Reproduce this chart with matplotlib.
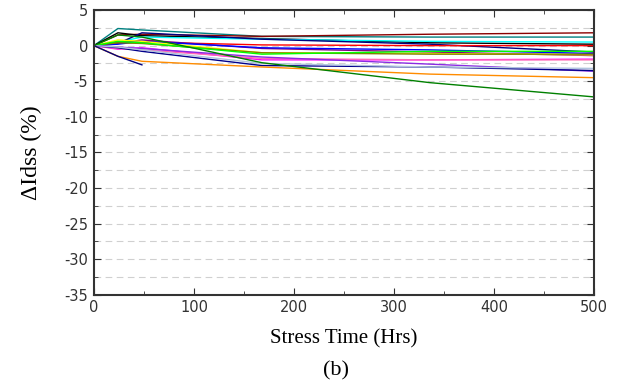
import numpy as np
import matplotlib.pyplot as plt
from matplotlib.ticker import MultipleLocator

plt.rcParams['axes.unicode_minus'] = False

# stress times (hrs) and delta Idss (%) per device
hrs = [0, 24, 48, 168, 336, 500]

teal = [0, 2.4, 2.2, 1.3, 1.2, 1.2]
darkred = [0, 1.5, 1.6, 1.3, 1.6, 1.8]
black = [0, 1.8, 1.4, 1.0, 0.4, 0.2]
cyan = [0, 0.5, 1.2, 0.9, 0.6, 0.5]
navy1 = [0, 0.3, 1.8, 0.9, 0.2, -0.9]
red = [0, 0.5, 0.5, 0.1, 0.0, 0.0]
purple = [0, 0.3, 0.8, -0.4, -0.9, -1.4]
blue = [0, 0.2, 0.6, -0.3, -0.6, -1.1]
yellow = [0, 0.8, 0.6, -1.0, -1.1, -1.3]
olive = [0, 0.4, 0.3, -1.0, -1.2, -1.2]
lime = [0, 0.6, 0.4, -1.2, -0.8, -0.8]
magenta = [0, -0.5, -0.3, -2.0, -2.0, -1.9]
pink = [0, -0.4, -0.6, -1.8, -2.0, -2.0]
violet = [0, -0.2, -0.4, -1.6, -2.6, -3.6]
navy2 = [0, -0.3, -0.8, -2.8, -3.0, -3.5]
steel = [0, -0.2, -0.6, -2.5, -3.0, -3.2]
orange = [0, -1.5, -2.2, -3.0, -4.0, -4.5]
green = [0, 1.5, 1.2, -2.4, -5.2, -7.2]
navy3_hrs = [0, 24, 48]
navy3 = [0, -1.5, -2.7]

series = [
    (teal, 'teal'), (darkred, 'darkred'), (black, 'black'), (cyan, 'cyan'),
    (navy1, 'navy'), (red, 'red'), (purple, 'purple'), (blue, 'blue'),
    (yellow, 'yellow'), (olive, 'olive'), (lime, 'lime'), (magenta, 'magenta'),
    (pink, 'hotpink'), (violet, 'blueviolet'), (navy2, 'darkblue'),
    (steel, 'lightsteelblue'), (orange, 'darkorange'), (green, 'green'),
]

fig = plt.figure(figsize=(6.22, 3.85), dpi=100)
ax = fig.add_axes([0.151, 0.234, 0.804, 0.740])

for y, c in series:
    ax.plot(hrs, y, color=c, lw=1.0)
ax.plot(navy3_hrs, navy3, color='navy', lw=1.0)

ax.set_xlim(0, 500)
ax.set_ylim(-35, 5)
ax.xaxis.set_major_locator(MultipleLocator(100))
ax.xaxis.set_minor_locator(MultipleLocator(50))
ax.yaxis.set_major_locator(MultipleLocator(5))
ax.yaxis.set_minor_locator(MultipleLocator(2.5))
ax.grid(True, which='both', axis='y', ls=(0, (6, 4)), color='#d0d0d0', lw=0.8)
ax.set_axisbelow(True)
ax.tick_params(which='both', direction='in', top=True, right=True,
               labelsize=10.5, colors='#333333', pad=4)
ax.tick_params(which='major', length=5)
ax.tick_params(which='minor', length=3)
for s in ax.spines.values():
    s.set_color('#333333')
    s.set_linewidth(1.5)
for lbl in ax.get_xticklabels() + ax.get_yticklabels():
    lbl.set_family('DejaVu Sans')

ax.set_xlabel('Stress Time (Hrs)', family='Liberation Serif', fontsize=15, labelpad=10)
ax.set_ylabel('ΔIdss (%)', family='Liberation Serif', fontsize=17, labelpad=16)
fig.text(0.54, 0.025, '(b)', family='Liberation Serif', fontsize=16, ha='center')

plt.savefig('out.png', dpi=100)
